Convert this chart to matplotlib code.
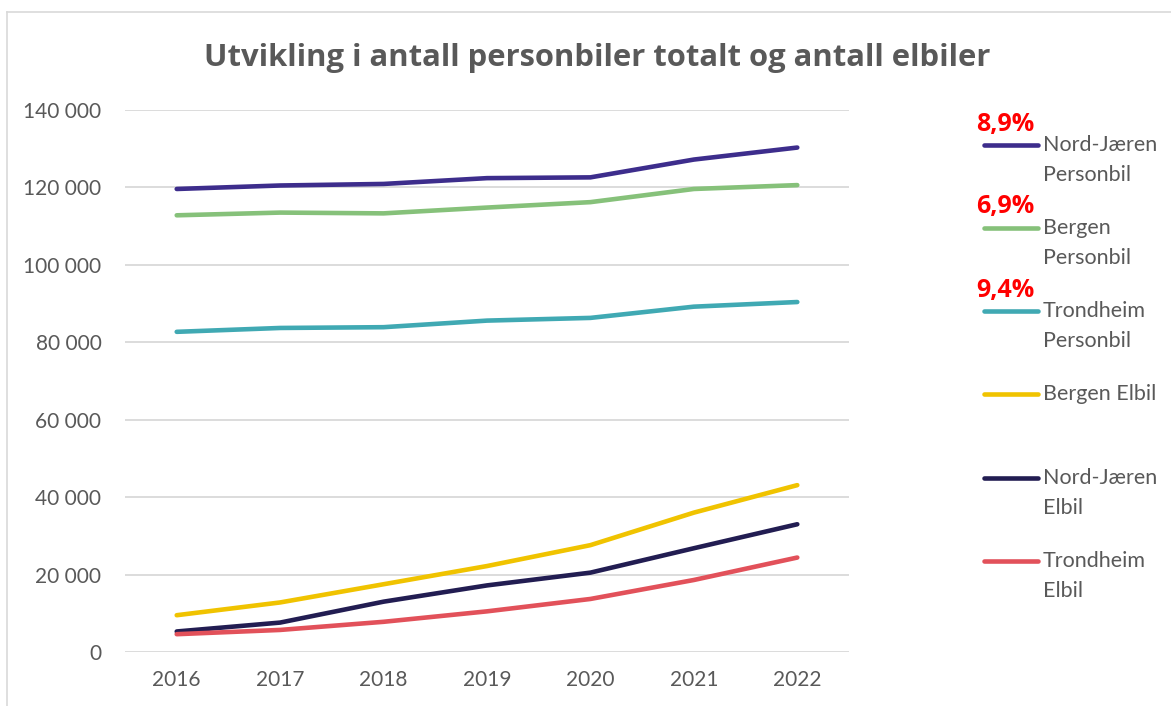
import numpy as np
import matplotlib
matplotlib.use("Agg")
import matplotlib.pyplot as plt
from matplotlib.lines import Line2D

# Data
years = [2016, 2017, 2018, 2019, 2020, 2021, 2022]
nord_jaeren_personbil = [119600, 120500, 120900, 122400, 122600, 127200, 130300]
bergen_personbil = [112800, 113500, 113300, 114800, 116200, 119600, 120600]
trondheim_personbil = [82700, 83700, 83900, 85600, 86300, 89200, 90400]
bergen_elbil = [9500, 12800, 17500, 22200, 27600, 36000, 43100]
nord_jaeren_elbil = [5300, 7600, 13000, 17200, 20500, 26800, 33000]
trondheim_elbil = [4600, 5700, 7800, 10500, 13700, 18600, 24400]

series_labels = ["Nord-Jæren\nPersonbil", "Bergen\nPersonbil", "Trondheim\nPersonbil",
                 "Bergen Elbil", "Nord-Jæren\nElbil", "Trondheim\nElbil"]
growth_labels = ["8,9%", "6,9%", "9,4%", None, None, None]
colors = ["#3D2D8C", "#86C17A", "#40A9B3", "#F0C300", "#221D52", "#E2515A"]

W, H = 1171, 706
TEXT = "#595959"
FONT = "Lato"
BOLD_FONT = "Open Sans"

fig = plt.figure(figsize=(W / 100, H / 100), dpi=100)
ax = fig.add_axes([125 / W, 1 - 652 / H, (849 - 125) / W, (652 - 110) / H])


def px(x, y):
    return x / W, 1 - y / H


x = np.arange(len(years))
all_series = [nord_jaeren_personbil, bergen_personbil, trondheim_personbil,
              bergen_elbil, nord_jaeren_elbil, trondheim_elbil]
for vals, c in zip(all_series, colors):
    ax.plot(x, vals, color=c, linewidth=3.3, solid_capstyle="round", zorder=3)

ax.set_xlim(-0.5, len(years) - 0.5)
ax.set_ylim(0, 140000)
ax.set_yticks(np.arange(0, 140001, 20000))
ax.set_yticklabels([f"{v:,}".replace(",", " ") for v in range(0, 140001, 20000)])
ax.set_xticks(x)
ax.set_xticklabels([str(y) for y in years])
ax.grid(axis="y", color="#D9D9D9", linewidth=1.3)
ax.set_axisbelow(True)
for s in ax.spines.values():
    s.set_visible(False)
ax.tick_params(axis="both", length=0, labelcolor=TEXT, labelsize=15)
ax.tick_params(axis="y", pad=17)
ax.tick_params(axis="x", pad=13)
for lab in ax.get_xticklabels() + ax.get_yticklabels():
    lab.set_fontfamily(FONT)

# title
fig.text(*px(597, 58), "Utvikling i antall personbiler totalt og antall elbiler",
         ha="center", va="center", fontsize=22.3, fontweight="bold", color=TEXT,
         family=BOLD_FONT)

# legend drawn by hand so the handle sits on the first text line
legend_y = [145, 228, 311, 394, 478, 561]
for lab, g, c, ly in zip(series_labels, growth_labels, colors, legend_y):
    x0, y0 = px(984, ly)
    x1, _ = px(1038, ly)
    fig.add_artist(Line2D([x0, x1], [y0, y0], color=c, linewidth=3.3,
                          solid_capstyle="round", transform=fig.transFigure))
    for i, part in enumerate(lab.split("\n")):
        fig.text(*px(1043, ly + 30 * i), part, ha="left", va="center",
                 fontsize=15.5, color=TEXT, family=FONT)
    if g:
        fig.text(*px(1005, ly - 21), g, ha="center", va="center",
                 fontsize=18, fontweight="bold", color="#FF0000",
                 family=BOLD_FONT)

# chart frame
fig.add_artist(Line2D([7 / W, 1], [1 - 12 / H, 1 - 12 / H], color="#D9D9D9",
                      linewidth=1.2, transform=fig.transFigure))
fig.add_artist(Line2D([7 / W, 7 / W], [0, 1 - 12 / H], color="#D9D9D9",
                      linewidth=1.2, transform=fig.transFigure))

fig.savefig("out.png", dpi=100, facecolor="white")
